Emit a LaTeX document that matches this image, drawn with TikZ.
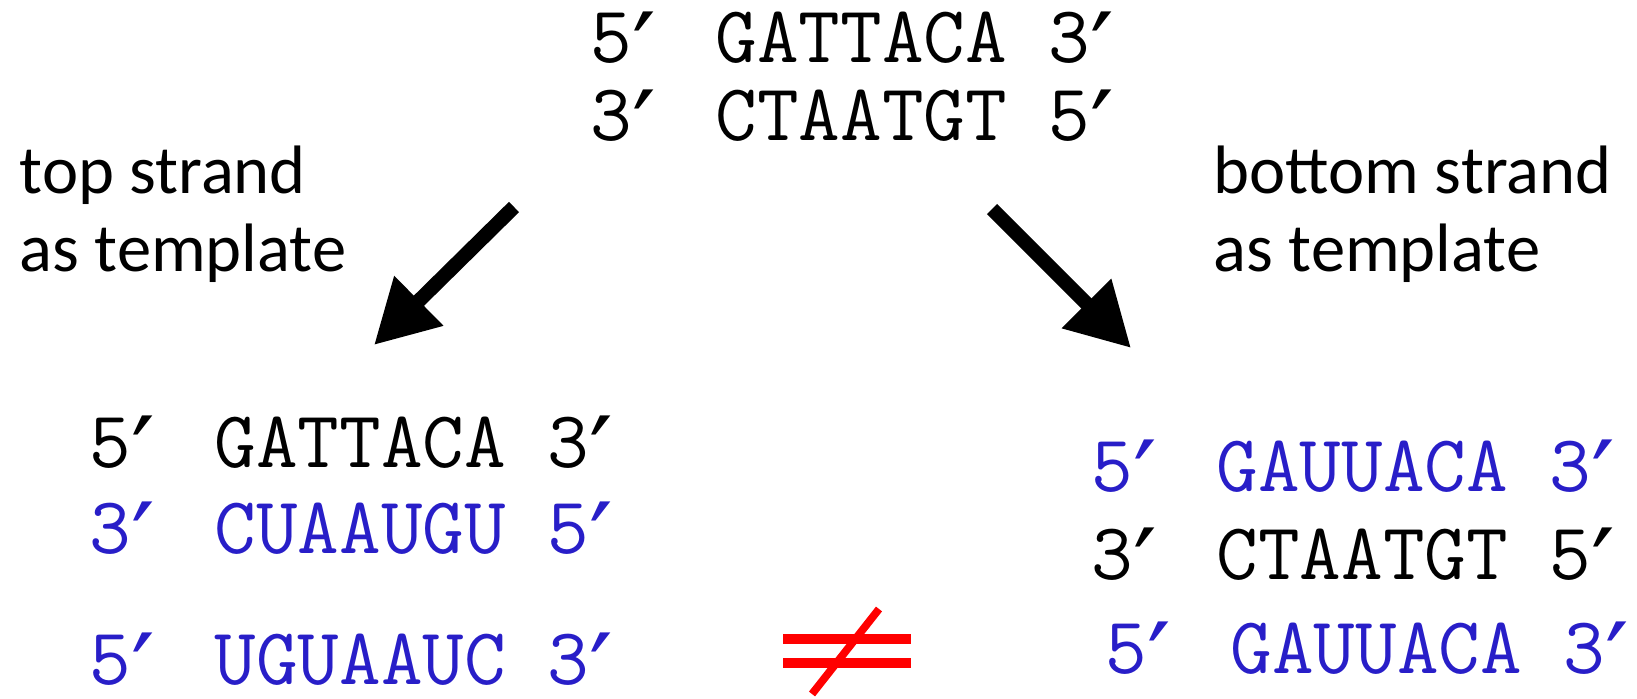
\documentclass[tikz,border=0pt]{standalone}
\usepackage{fontspec}
\usepackage{xcolor}
\usepackage{graphicx}
\usepackage{tikz}
\setmainfont{Carlito}
\newfontfamily\primefont{DejaVu Sans}
\usetikzlibrary{arrows.meta,positioning}
\definecolor{rnaBlue}{RGB}{ 40, 30,200}
\definecolor{neqRed} {RGB}{255,  0,  0}
% prime, one typewriter cell wide
\newcommand\pr{\makebox[\fontcharwd\font`0][l]{%
  \smash{\raisebox{-0.32em}{\scalebox{1.3}{\primefont ′}}}}}

\begin{document}
\begin{tikzpicture}[
  strand/.style={inner sep=0pt,anchor=base west,
                 font=\ttfamily\fontsize{23}{27}\selectfont},
  rna/.style   ={strand,text=rnaBlue},
  label/.style ={inner sep=0pt,anchor=base west,align=left,
                 font=\fontsize{19.5}{27}\selectfont},
  bigarrow/.style={-{Triangle[length=6.3mm,width=6.6mm]},line width=4.1pt}
]
\useasboundingbox (0,0) rectangle (16.37,6.98);

% double strand at the top
\node[strand] (dnaTop) at (5.90,6.35) {5\pr{} GATTACA 3\pr};
\node[strand] (dnaBot) at (5.90,5.57) {3\pr{} CTAATGT 5\pr};

\node[label] (topLbl) at (0.19,5.05) {top strand};
\node[label] (topLblB) at (0.19,4.27) {as template};
\node[label] (botLbl) at (12.13,5.05) {bottom strand};
\node[label] (botLblB) at (12.13,4.27) {as template};

% transcripts
\node[strand] (lTemp) at (0.89,2.31) {5\pr{} GATTACA 3\pr};
\node[rna]    (lRna)  at (0.89,1.45) {3\pr{} CUAAUGU 5\pr};
\node[rna]    (lRev)  at (0.89,0.14) {5\pr{} UGUAAUC 3\pr};

\node[rna]    (rRna)  at (10.91,2.07) {5\pr{} GAUUACA 3\pr};
\node[strand] (rTemp) at (10.91,1.19) {3\pr{} CTAATGT 5\pr};
\node[rna]    (rRev)  at (11.05,0.25) {5\pr{} GAUUACA 3\pr};

\coordinate (lFrom) at (5.14,4.91);
\coordinate (lTo)   at (3.74,3.53);
\coordinate (rFrom) at (9.92,4.89);
\coordinate (rTo)   at (11.31,3.50);
\foreach \a/\b in {lFrom/lTo,rFrom/rTo}
  \draw[bigarrow] (\a) -- (\b);

% not equal
\draw[neqRed,line width=2.6pt] (7.83,0.59) -- (9.11,0.59)
                               (7.83,0.35) -- (9.11,0.35);
\draw[neqRed,line width=2.2pt] (8.79,0.89) -- (8.12,0.04);
\end{tikzpicture}
\end{document}
